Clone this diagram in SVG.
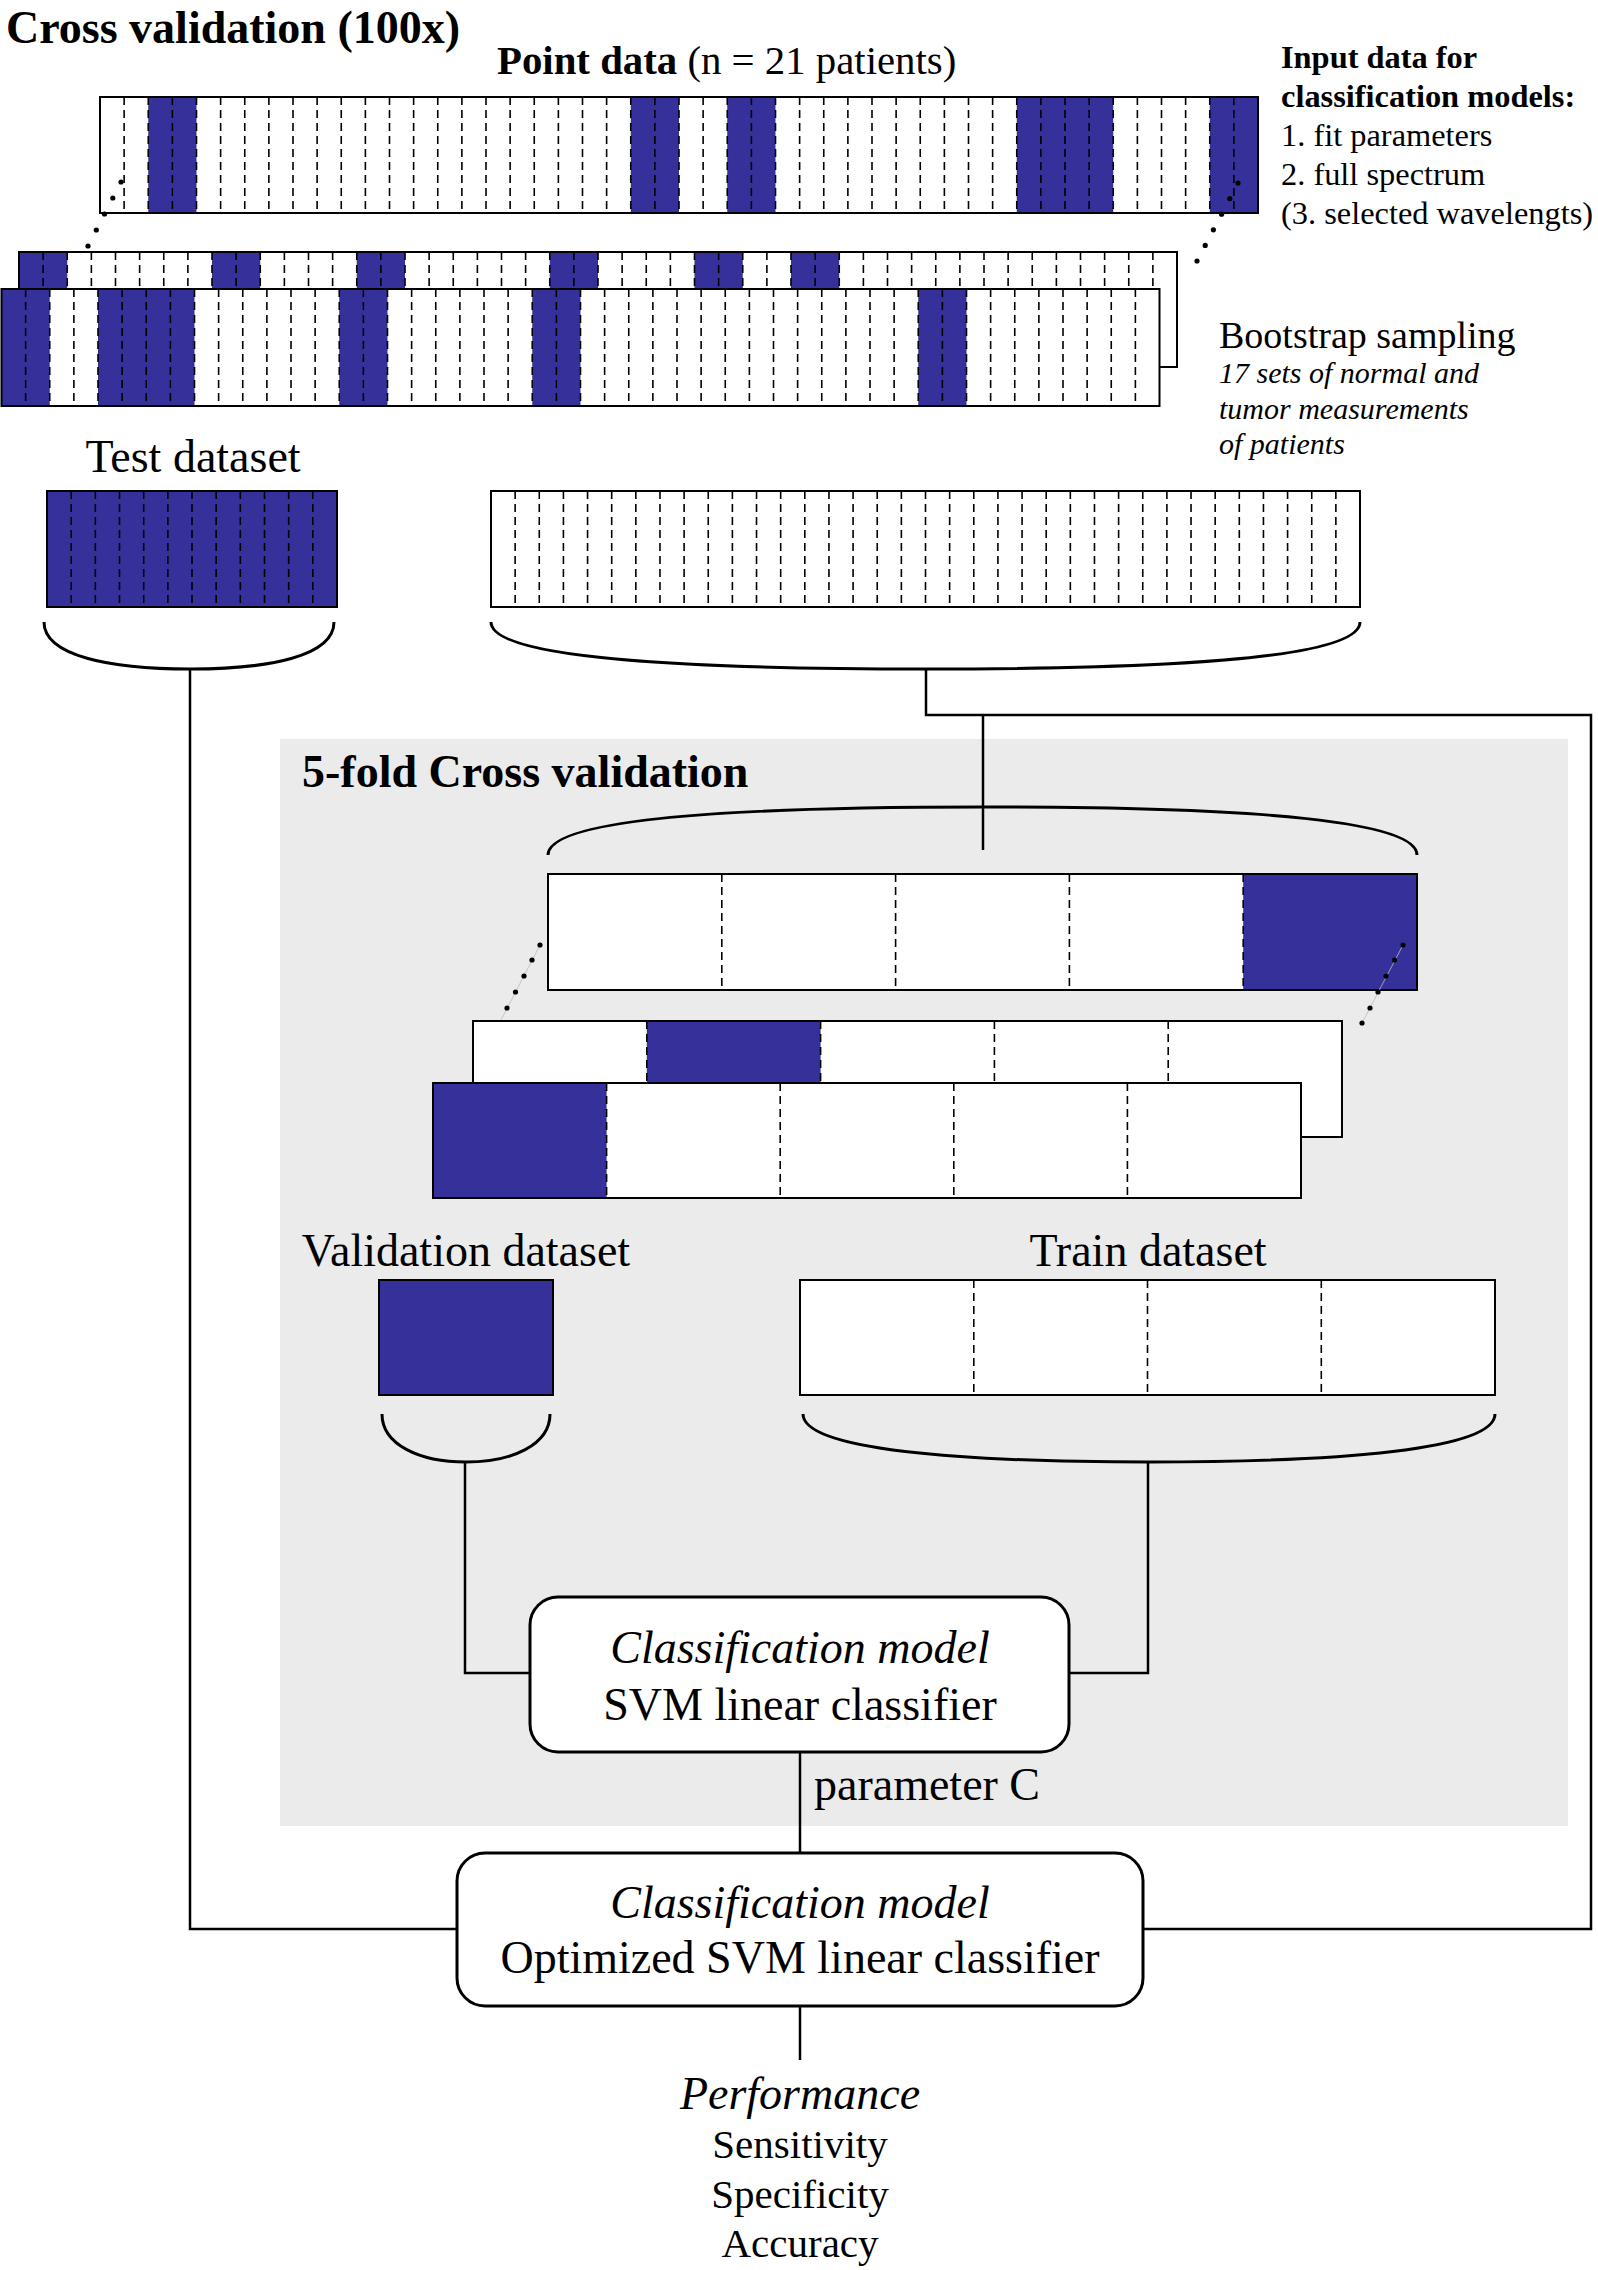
<svg xmlns="http://www.w3.org/2000/svg" width="1598" height="2270" viewBox="0 0 1598 2270">
<style>
.t{font-family:"Liberation Serif","Times New Roman",serif;fill:#000}
.b{font-weight:bold}
.i{font-style:italic}
.m{text-anchor:middle}
.dl{fill:none;stroke:#000;stroke-width:1.6;stroke-dasharray:8 5}
.fd{fill:none;stroke:#000;stroke-width:1.6;stroke-dasharray:8 5}
.ol{fill:none;stroke:#000;stroke-width:2}
.wf{fill:#fff}
.bl{fill:#36319a}
.br{fill:none;stroke:#000;stroke-width:3}
.cn{fill:none;stroke:#000;stroke-width:2.5}
.box{fill:#fff;stroke:#000;stroke-width:3}
.dot{fill:#000}
</style>
<defs>
<path id="d47" class="dl" d="M24.125 0v116m24.125-116v116m24.125-116v116m24.125-116v116m24.125-116v116m24.125-116v116m24.125-116v116m24.125-116v116m24.125-116v116m24.125-116v116m24.125-116v116m24.125-116v116m24.125-116v116m24.125-116v116m24.125-116v116m24.125-116v116m24.125-116v116m24.125-116v116m24.125-116v116m24.125-116v116m24.125-116v116m24.125-116v116m24.125-116v116m24.125-116v116m24.125-116v116m24.125-116v116m24.125-116v116m24.125-116v116m24.125-116v116m24.125-116v116m24.125-116v116m24.125-116v116m24.125-116v116m24.125-116v116m24.125-116v116m24.125-116v116m24.125-116v116m24.125-116v116m24.125-116v116m24.125-116v116m24.125-116v116m24.125-116v116m24.125-116v116m24.125-116v116m24.125-116v116m24.125-116v116m24.125-116v116"/>
<path id="d11" class="dl" d="M24.167 0v116m24.167-116v116m24.167-116v116m24.167-116v116m24.167-116v116m24.167-116v116m24.167-116v116m24.167-116v116m24.167-116v116m24.167-116v116m24.167-116v116"/>
<path id="d35" class="dl" d="M24.139 0v116m24.139-116v116m24.139-116v116m24.139-116v116m24.139-116v116m24.139-116v116m24.139-116v116m24.139-116v116m24.139-116v116m24.139-116v116m24.139-116v116m24.139-116v116m24.139-116v116m24.139-116v116m24.139-116v116m24.139-116v116m24.139-116v116m24.139-116v116m24.139-116v116m24.139-116v116m24.139-116v116m24.139-116v116m24.139-116v116m24.139-116v116m24.139-116v116m24.139-116v116m24.139-116v116m24.139-116v116m24.139-116v116m24.139-116v116m24.139-116v116m24.139-116v116m24.139-116v116m24.139-116v116m24.139-116v116"/>
</defs>
<rect width="1598" height="2270" fill="#fff"/>

<text class="t b" x="6" y="43" font-size="46">Cross validation (100x)</text>
<text class="t" x="497" y="74" font-size="40.8"><tspan class="b">Point data</tspan> (n = 21 patients)</text>

<g id="input-note" class="t" font-size="32">
<text class="t b" x="1281" y="68" font-size="32.4">Input data for</text>
<text class="t b" x="1281" y="107" font-size="32.4">classification models:</text>
<text class="t" x="1281" y="146" font-size="32.4">1. fit parameters</text>
<text class="t" x="1281" y="185" font-size="32.4">2. full spectrum</text>
<text class="t" x="1281" y="224" font-size="32.4">(3. selected wavelengts)</text>
</g>

<g id="point-data-strip">
<rect class="wf" x="100" y="97" width="1158" height="116"/>
<rect class="bl" x="148.25" y="97" width="48.25" height="116"/>
<rect class="bl" x="630.75" y="97" width="48.25" height="116"/>
<rect class="bl" x="727.25" y="97" width="48.25" height="116"/>
<rect class="bl" x="1016.75" y="97" width="96.5" height="116"/>
<rect class="bl" x="1209.75" y="97" width="48.25" height="116"/>
<use href="#d47" x="100" y="97"/>
<rect class="ol" x="100" y="97" width="1158" height="116"/>
</g>

<g id="bootstrap-dots">
<circle class="dot" cx="121" cy="182" r="2.6"/><circle class="dot" cx="112.8" cy="198" r="2.6"/><circle class="dot" cx="104.5" cy="214" r="2.6"/><circle class="dot" cx="96.3" cy="230" r="2.6"/><circle class="dot" cx="88" cy="246" r="2.6"/>
<circle class="dot" cx="1238" cy="183" r="2.6"/><circle class="dot" cx="1229.8" cy="198.6" r="2.6"/><circle class="dot" cx="1221.6" cy="214.2" r="2.6"/><circle class="dot" cx="1213.4" cy="229.8" r="2.6"/><circle class="dot" cx="1205.2" cy="245.4" r="2.6"/><circle class="dot" cx="1197" cy="261" r="2.6"/>
</g>

<g id="bootstrap-strip-2">
<rect class="wf" x="19" y="252" width="1158" height="115"/>
<rect class="bl" x="19" y="252" width="48.25" height="115"/>
<rect class="bl" x="212" y="252" width="48.25" height="115"/>
<rect class="bl" x="356.75" y="252" width="48.25" height="115"/>
<rect class="bl" x="549.75" y="252" width="48.25" height="115"/>
<rect class="bl" x="694.5" y="252" width="48.25" height="115"/>
<rect class="bl" x="791" y="252" width="48.25" height="115"/>
<use href="#d47" x="19" y="252"/>
<rect class="ol" x="19" y="252" width="1158" height="115"/>
</g>

<g id="bootstrap-strip-3">
<rect class="wf" x="1.5" y="289" width="1158" height="117"/>
<rect class="bl" x="1.5" y="289" width="48.25" height="117"/>
<rect class="bl" x="98" y="289" width="96.5" height="117"/>
<rect class="bl" x="339.25" y="289" width="48.25" height="117"/>
<rect class="bl" x="532.25" y="289" width="48.25" height="117"/>
<rect class="bl" x="918.25" y="289" width="48.25" height="117"/>
<use href="#d47" x="1.5" y="289"/>
<rect class="ol" x="1.5" y="289" width="1158" height="117"/>
</g>

<g id="bootstrap-label">
<text class="t" x="1219" y="348" font-size="38">Bootstrap sampling</text>
<text class="t i" x="1219" y="383" font-size="30">17 sets of normal and</text>
<text class="t i" x="1219" y="419" font-size="30">tumor measurements</text>
<text class="t i" x="1219" y="454" font-size="30">of patients</text>
</g>

<g id="test-dataset">
<text class="t m" x="193" y="472" font-size="46">Test dataset</text>
<rect class="bl" x="47" y="491" width="290" height="116"/>
<use href="#d11" x="47" y="491"/>
<rect class="ol" x="47" y="491" width="290" height="116"/>
<path class="br" d="M44,622 C44,656 110,669 190,669 C270,669 334,656 334,622"/>
</g>

<g id="train-set-outer">
<rect class="wf" x="491" y="491" width="869" height="116"/>
<use href="#d35" x="491" y="491"/>
<rect class="ol" x="491" y="491" width="869" height="116"/>
<path class="br" d="M491,622 C491,660 700,669 926,669 C1152,669 1360,660 1360,622"/>
</g>

<rect id="cv-panel" x="280" y="739" width="1288" height="1087" fill="#ebebeb"/>

<g id="connectors">
<path class="cn" d="M190,669 V1929 H457"/>
<path class="cn" d="M926,669 V715 H1591 V1929 H1143"/>
<path class="cn" d="M983,715 V850"/>
<path class="cn" d="M465,1462 V1673 H530"/>
<path class="cn" d="M1148,1462 V1673 H1069"/>
<path class="cn" d="M800,1752 V1853"/>
<path class="cn" d="M800,2006 V2060"/>
</g>

<g id="five-fold">
<text class="t b" x="302" y="787" font-size="46">5-fold Cross validation</text>
<path class="br" d="M548,855 C548,822 700,807 983,807 C1266,807 1417,822 1417,855"/>
<rect class="wf" x="548" y="874" width="869" height="116"/>
<rect class="bl" x="1243.2" y="874" width="173.8" height="116"/>
<path class="fd" d="M721.8,874v116M895.6,874v116M1069.4,874v116M1243.2,874v116"/>
<rect class="ol" x="548" y="874" width="869" height="116"/>
<line x1="540" y1="945" x2="500" y2="1022" stroke="#bbb" stroke-width="0.8"/>
<line x1="1403" y1="945" x2="1362" y2="1023" stroke="#bbb" stroke-width="0.8"/>
<circle class="dot" cx="540" cy="945" r="2.6"/><circle class="dot" cx="532" cy="960" r="2.6"/><circle class="dot" cx="524" cy="976" r="2.6"/><circle class="dot" cx="515.5" cy="992" r="2.6"/><circle class="dot" cx="507" cy="1008" r="2.6"/>
<circle class="dot" cx="1403" cy="945" r="2.6"/><circle class="dot" cx="1394.5" cy="960" r="2.6"/><circle class="dot" cx="1386" cy="976" r="2.6"/><circle class="dot" cx="1378" cy="992" r="2.6"/><circle class="dot" cx="1370" cy="1008" r="2.6"/><circle class="dot" cx="1362" cy="1023" r="2.6"/>
<rect class="wf" x="473" y="1021" width="869" height="116"/>
<rect class="bl" x="646.8" y="1021" width="173.8" height="116"/>
<path class="fd" d="M646.8,1021v116M820.6,1021v116M994.4,1021v116M1168.2,1021v116"/>
<rect class="ol" x="473" y="1021" width="869" height="116"/>
<rect class="wf" x="433" y="1083" width="868" height="115"/>
<rect class="bl" x="433" y="1083" width="173.6" height="115"/>
<path class="fd" d="M606.6,1083v115M780.2,1083v115M953.8,1083v115M1127.4,1083v115"/>
<rect class="ol" x="433" y="1083" width="868" height="115"/>
</g>

<g id="validation-dataset">
<text class="t m" x="466" y="1266" font-size="46">Validation dataset</text>
<rect class="bl" x="379" y="1280" width="174" height="115"/>
<rect class="ol" x="379" y="1280" width="174" height="115"/>
<path class="br" d="M382,1414 C382,1445 420,1462 466,1462 C512,1462 550,1445 550,1414"/>
</g>

<g id="train-dataset">
<text class="t m" x="1148" y="1266" font-size="46">Train dataset</text>
<rect class="wf" x="800" y="1280" width="695" height="115"/>
<path class="fd" d="M973.8,1280v115M1147.5,1280v115M1321.3,1280v115"/>
<rect class="ol" x="800" y="1280" width="695" height="115"/>
<path class="br" d="M803,1414 C803,1450 960,1462 1149,1462 C1338,1462 1495,1450 1495,1414"/>
</g>

<g id="svm-classifier">
<rect class="box" x="530" y="1597" width="539" height="155" rx="28"/>
<text class="t i m" x="800" y="1663" font-size="46">Classification model</text>
<text class="t m" x="800" y="1720" font-size="46">SVM linear classifier</text>
</g>

<text class="t" x="814" y="1800" font-size="46">parameter C</text>

<g id="optimized-classifier">
<rect class="box" x="457" y="1853" width="686" height="153" rx="28"/>
<text class="t i m" x="800" y="1918" font-size="46">Classification model</text>
<text class="t m" x="800" y="1973" font-size="46">Optimized SVM linear classifier</text>
</g>

<g id="performance">
<text class="t i m" x="800" y="2109" font-size="46">Performance</text>
<text class="t m" x="800" y="2158" font-size="41">Sensitivity</text>
<text class="t m" x="800" y="2208" font-size="41">Specificity</text>
<text class="t m" x="800" y="2257" font-size="41">Accuracy</text>
</g>
</svg>
